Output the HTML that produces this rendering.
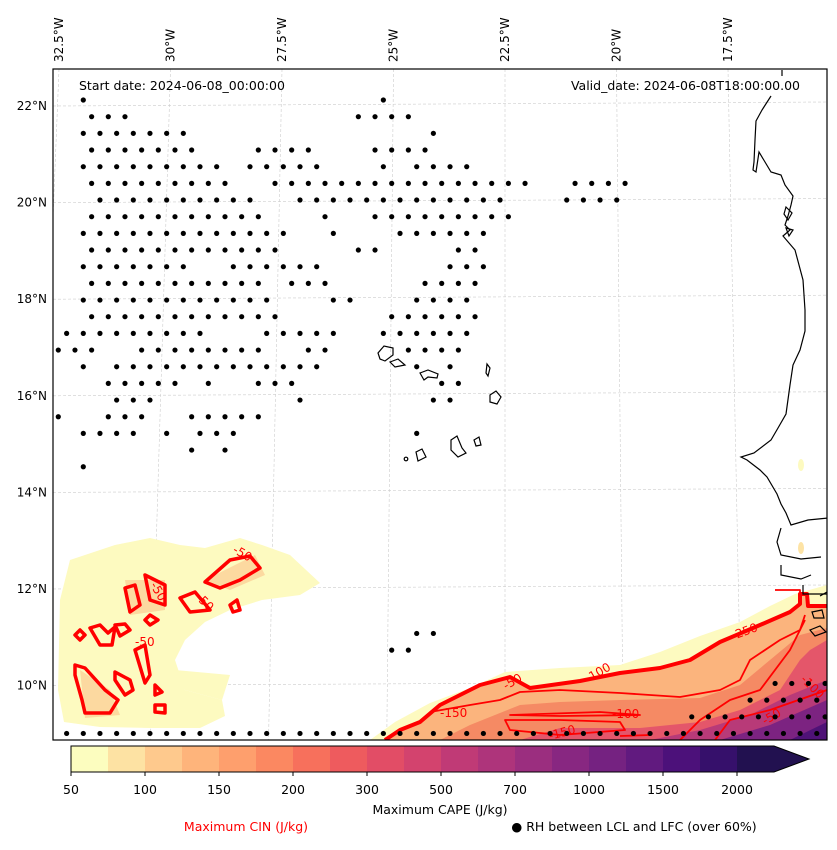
<!DOCTYPE html>
<html><head><meta charset="utf-8"><style>
body{margin:0;background:#fff;}
svg text{font-family:"DejaVu Sans","Liberation Sans",sans-serif;}
</style></head><body>
<svg id="chart" width="837" height="845" viewBox="0 0 837 845" xmlns="http://www.w3.org/2000/svg">
<defs><clipPath id="mapclip"><rect x="53" y="69" width="774" height="671"/></clipPath></defs>
<rect x="0" y="0" width="837" height="845" fill="#fff"/>
<g id="map" clip-path="url(#mapclip)">
  <g id="grid"></g>
  <g>
    <path d="M60,600 L70,560 L115,545 L150,538 L180,545 L205,548 L240,538 L262,545 L290,555 L320,583 L300,595 L262,600 L230,610 L205,622 L185,640 L175,660 L185,690 L222,700 L225,716 L200,728 L150,728 L100,727 L64,722 L58,690 Z" fill="#fdfac0"/>
    <path d="M175,670 L230,675 L222,700 L185,690 Z" fill="#fdfac0"/>
    <path d="M80,670 L110,690 L120,715 L85,718 Z" fill="#fcd9a0"/>
    <path d="M125,580 L165,580 L165,610 L130,615 Z" fill="#fcd9a0"/>
    <path d="M205,580 L255,555 L265,575 L230,590 Z" fill="#fcd9a0"/>
  </g>
  <g>
    <path d="M370,740 L395,722 L430,703 L470,688 L505,672 L560,668 L620,665 L660,652 L700,636 L740,622 L770,606 L795,594 L827,585 L827,740 Z" fill="#fdfac0"/>
    <path d="M385,740 L400,730 L420,722 L440,705 L480,685 L510,677 L530,688 L580,681 L620,673 L660,668 L690,660 L720,642 L760,625 L790,612 L800,604 L800,594 L807,594 L808,606 L827,606 L827,740 Z" fill="#fbb47d"/>
    <path d="M440,740 L470,725 L520,705 L560,702 L620,700 L700,698 L740,685 L770,660 L800,635 L827,628 L827,740 Z" fill="#f58a64"/>
    <path d="M520,740 L560,728 L640,728 L700,722 L740,710 L780,690 L800,660 L810,650 L827,640 L827,740 Z" fill="#e4566a"/>
    <path d="M650,740 L700,730 L750,715 L790,695 L827,680 L827,740 Z" fill="#b83a78"/>
    <path d="M720,740 L770,725 L827,700 L827,740 Z" fill="#7c2381"/>
    <path d="M790,740 L827,722 L827,740 Z" fill="#4f1277"/>
    <ellipse cx="801" cy="465" rx="3" ry="6" fill="#fdfac0"/>
    <ellipse cx="801" cy="548" rx="3" ry="6" fill="#fde3a5"/>
  </g>
  <g fill="none" stroke="#ff0000" stroke-linejoin="round">
    <path d="M385,740 L400,730 L420,722 L440,705 L480,685 L510,677 L530,688 L580,681 L620,673 L660,668 L690,660 L720,642 L760,625 L790,612 L800,604 L800,594 L807,594 L808,606 L827,606" stroke-width="4"/>
    <path d="M430,712 L470,705 L500,700 L520,692 L560,690 L620,693 L680,697 L720,690 L740,680 L750,660 L780,640 L800,630 L805,615" stroke-width="1.8"/>
    <path d="M510,715 L600,712 L640,715 L560,716 Z" stroke-width="1.8"/>
    <path d="M505,720 L560,720 L620,722 L625,730 L560,735 L510,730 Z" stroke-width="1.8"/>
    <path d="M620,736 L650,735" stroke-width="1.8"/>
    <path d="M680,740 L700,720 L730,700 L760,690 L790,650 L805,620" stroke-width="1.8"/>
    <path d="M715,740 L730,720 L770,710 L827,690" stroke-width="1.8"/>
    <path d="M775,590 L800,590 L800,596" stroke-width="1.8"/>
    <path d="M75,635 L80,630 L85,635 L80,640 Z" stroke-width="3.5"/>
    <path d="M90,628 L100,625 L108,633 L115,627 L112,645 L100,645 Z" stroke-width="3.5"/>
    <path d="M115,625 L125,624 L130,630 L120,636 Z" stroke-width="3.5"/>
    <path d="M125,588 L135,585 L140,605 L130,612 Z" stroke-width="3.5"/>
    <path d="M145,575 L165,585 L165,605 L150,600 Z" stroke-width="3.5"/>
    <path d="M150,615 L158,620 L150,625 L145,620 Z" stroke-width="3.5"/>
    <path d="M180,598 L195,592 L210,610 L190,612 Z" stroke-width="3.5"/>
    <path d="M205,582 L230,560 L250,556 L260,568 L240,580 L220,588 Z" stroke-width="3.5"/>
    <path d="M230,605 L237,600 L240,610 L233,612 Z" stroke-width="3.5"/>
    <path d="M135,650 L145,645 L150,675 L145,683 Z" stroke-width="3.5"/>
    <path d="M155,685 L162,692 L155,695 Z" stroke-width="3.5"/>
    <path d="M155,705 L165,705 L165,713 L155,712 Z" stroke-width="3.5"/>
    <path d="M115,672 L130,680 L133,690 L125,695 L115,680 Z" stroke-width="3.5"/>
    <path d="M75,665 L85,668 L105,690 L118,700 L110,713 L85,713 L82,700 L75,675 Z" stroke-width="3.5"/>
  </g>
  <g fill="#ff0000" font-size="12">
    <text x="232" y="552" transform="rotate(30 232 552)">-50</text>
    <text x="150" y="585" transform="rotate(60 150 585)">-50</text>
    <text x="195" y="598" transform="rotate(45 195 598)">-50</text>
    <text x="135" y="646">-50</text>
    <text x="506" y="690" transform="rotate(-30 506 690)">-50</text>
    <text x="588" y="683" transform="rotate(-30 588 683)">-100</text>
    <text x="440" y="717">-150</text>
    <text x="612" y="718">-100</text>
    <text x="550" y="740" transform="rotate(-15 550 740)">-150</text>
    <text x="733" y="640" transform="rotate(-20 733 640)">-250</text>
    <text x="800" y="680" transform="rotate(45 800 680)">-100</text>
    <text x="765" y="725" transform="rotate(-30 765 725)">-50</text>
  </g>
  <g fill="none" stroke="#000" stroke-width="1.2">
    <path d="M782,70 L782,76 M771,96 L762,110 L756,121 L755,140 L754,162 L753,170 L756,172 L759,152 L765,162 L771,172 L781,175 L785,185 L793,196 L791,205 L788,216 L785,225 L790,230 L783,236 L795,250 L803,280 L805,310 L805,331 L800,350 L793,365 L790,385 L786,414 L778,428 L771,440 L754,453 L741,457 L747,460 L760,470 L767,477 L777,494 L781,504 L786,513 L791,525 L808,520 L828,518"/>
    <path d="M781,528 L777,542 L781,555 L801,559 L821,557 M781,565 L781,575 L801,579 L811,575 M803,585 L803,594 L828,594"/>
    <path d="M786,207 L792,213 L788,220 L784,214 Z M786,228 L793,230 L789,236 Z"/>
    <path d="M810,630 L820,626 L826,632 L815,636 Z M812,612 L822,610 L824,618 L814,618 Z M820,596 L827,592"/>
    <path d="M378,353 L384,346 L393,348 L393,355 L385,361 L380,359 Z"/>
    <path d="M390,362 L398,359 L405,365 L395,367 Z"/>
    <path d="M420,373 L428,370 L438,374 L437,378 L428,377 L424,380 Z"/>
    <path d="M487,364 L490,368 L488,376 L486,373 Z"/>
    <path d="M490,395 L496,391 L501,397 L497,404 L490,402 Z"/>
    <path d="M451,440 L457,436 L462,448 L466,453 L458,457 L451,450 Z"/>
    <path d="M474,440 L479,437 L481,445 L476,446 Z"/>
    <path d="M416,452 L422,449 L426,457 L418,461 Z"/>
    <circle cx="406" cy="459" r="1.8"/>
  </g>
  <g id="dots"></g>
</g>
<rect x="53" y="69" width="774" height="671" fill="none" stroke="#000" stroke-width="1.2"/>
<g id="lonlabels" font-size="12" fill="#000"></g>
<g id="latlabels" font-size="12" fill="#000"></g>
<text x="79" y="90" font-size="12.5">Start date: 2024-06-08_00:00:00</text>
<text x="800" y="90" font-size="12.5" text-anchor="end">Valid_date: 2024-06-08T18:00:00.00</text>
<g id="cbar"></g>
<text x="440" y="814" font-size="12.5" text-anchor="middle">Maximum CAPE (J/kg)</text>
<text x="246" y="831" font-size="12.5" text-anchor="middle" fill="#ff0000">Maximum CIN (J/kg)</text>
<text x="634" y="831" font-size="12.5" text-anchor="middle">● RH between LCL and LFC (over 60%)</text>
</svg>
<script>
const lonLabels=["32.5°W","30°W","27.5°W","25°W","22.5°W","20°W","17.5°W"];
const lonValues=[-32.5,-30,-27.5,-25,-22.5,-20,-17.5];
const latLabels=["22°N","20°N","18°N","16°N","14°N","12°N","10°N"];
const latValues=[22,20,18,16,14,12,10];
const cbarTicks=["50","100","150","200","300","500","700","1000","1500","2000"];
const cbarColors=["#fcfdbf","#fde2a3","#fec98d","#feb47b","#fe9f6d","#fb8861","#f7705c","#ee5b5e","#e24d66","#d3436e","#c03a76","#ae347b","#9b2e7f","#882781","#752281","#611a7f","#4c117a","#36106b","#221150"];
// dot rows: [rowIndex, startCol, endCol]
const dotRows=[[0,0,0],[0,18,18],[1,0,2],[1,16,19],[2,0,6],[2,21,21],[3,0,6],[3,10,13],[3,17,20],
[4,0,8],[4,10,14],[4,18,18],[4,20,23],[5,0,8],[5,11,26],[5,29,32],[6,1,10],[6,13,25],[6,29,32],
[7,0,10],[7,14,14],[7,17,25],[8,0,12],[8,15,15],[8,19,24],[9,0,11],[9,16,17],[9,22,23],
[10,0,6],[10,9,14],[10,22,24],[11,0,10],[11,12,14],[11,20,23],[12,0,11],[12,15,16],[12,20,23],
[13,0,11],[13,18,23],[14,-1,7],[14,11,15],[14,18,23],[15,-2,0],[15,3,10],[15,13,14],[15,19,22],
[16,0,0],[16,2,14],[16,20,20],[16,22,22],[17,1,5],[17,7,7],[17,10,12],[17,21,22],[18,2,4],[18,13,13],[18,21,22],
[19,-2,-2],[19,1,3],[19,6,10],[20,0,3],[20,5,5],[20,7,9],[20,20,20],[21,6,6],[21,8,8],[22,0,0],
[32,20,21],[33,18,19],[35,41,44],[36,40,44],[37,36,44],[38,-1,44]];
const NS="http://www.w3.org/2000/svg";
function lonX(lon){return 505+(lon+22.5)*44.6;}
function lonXat(lon,y){const xt=lonX(lon);return xt+(xt-505)*0.00009*(y-69);}
function latY(lat){return 105+(22-lat)*48.3;}
function rowY(r){return 100+16.67*r;}
function colX(c,r){return 83.3+16.67*c+(r%2?8.33:0);}
const grid=document.getElementById('grid');
lonValues.forEach((v,i)=>{
  const l=document.createElementNS(NS,'line');
  
  
  l.setAttribute('x1',lonXat(v,69));l.setAttribute('y1',69);
  l.setAttribute('x2',lonXat(v,740));l.setAttribute('y2',740);
  l.setAttribute('stroke','#ccc');l.setAttribute('stroke-width','0.6');l.setAttribute('stroke-dasharray','3,2');
  grid.appendChild(l);
  const t=document.createElementNS(NS,'text');
  
  
  const x=lonX(v)+4;
  t.setAttribute('transform','translate('+x+',62) rotate(-90)');
  t.textContent=lonLabels[i];
  document.getElementById('lonlabels').appendChild(t);
});
latValues.forEach((v,i)=>{
  const y=latY(v);
  const l=document.createElementNS(NS,'line');
  
  
  l.setAttribute('x1',53);l.setAttribute('y1',y+1);l.setAttribute('x2',827);l.setAttribute('y2',y-3);
  l.setAttribute('stroke','#ccc');l.setAttribute('stroke-width','0.6');l.setAttribute('stroke-dasharray','3,2');
  grid.appendChild(l);
  const t=document.createElementNS(NS,'text');
  
  
  t.setAttribute('x',47);t.setAttribute('y',y+5);t.setAttribute('text-anchor','end');
  t.textContent=latLabels[i];
  document.getElementById('latlabels').appendChild(t);
});
const dots=document.getElementById('dots');
dotRows.forEach(([r,a,b])=>{
  for(let c=a;c<=b;c++){
    const d=document.createElementNS(NS,'circle');
    
    
    d.setAttribute('cx',colX(c,r));d.setAttribute('cy',rowY(r));d.setAttribute('r','2.6');d.setAttribute('fill','#000');
    dots.appendChild(d);
  }
});
const cb=document.getElementById('cbar');
const cx0=71,cw=37,cy0=746,ch=26;
cbarColors.forEach((col,i)=>{
  const r=document.createElementNS(NS,'rect');
  
  
  r.setAttribute('x',cx0+i*cw);r.setAttribute('y',cy0);r.setAttribute('width',cw+0.5);r.setAttribute('height',ch);r.setAttribute('fill',col);
  cb.appendChild(r);
});
const xe=cx0+cbarColors.length*cw;
const tri=document.createElementNS(NS,'path');


tri.setAttribute('d','M'+xe+','+cy0+' L'+(xe+35)+','+(cy0+ch/2)+' L'+xe+','+(cy0+ch)+' Z');
tri.setAttribute('fill',cbarColors[cbarColors.length-1]);
cb.appendChild(tri);
const ol=document.createElementNS(NS,'path');


ol.setAttribute('d','M'+cx0+','+cy0+' L'+xe+','+cy0+' L'+(xe+35)+','+(cy0+ch/2)+' L'+xe+','+(cy0+ch)+' L'+cx0+','+(cy0+ch)+' Z');
ol.setAttribute('fill','none');ol.setAttribute('stroke','#000');ol.setAttribute('stroke-width','1');
cb.appendChild(ol);
cbarTicks.forEach((t,i)=>{
  const x=cx0+i*2*cw;
  const tk=document.createElementNS(NS,'line');
  
  
  tk.setAttribute('x1',x);tk.setAttribute('x2',x);tk.setAttribute('y1',cy0+ch);tk.setAttribute('y2',cy0+ch+4);tk.setAttribute('stroke','#000');
  cb.appendChild(tk);
  const tx=document.createElementNS(NS,'text');
  
  
  tx.setAttribute('x',x);tx.setAttribute('y',794);tx.setAttribute('text-anchor','middle');tx.setAttribute('font-size','12.5');
  tx.textContent=t;
  cb.appendChild(tx);
});
</script>
</body></html>
